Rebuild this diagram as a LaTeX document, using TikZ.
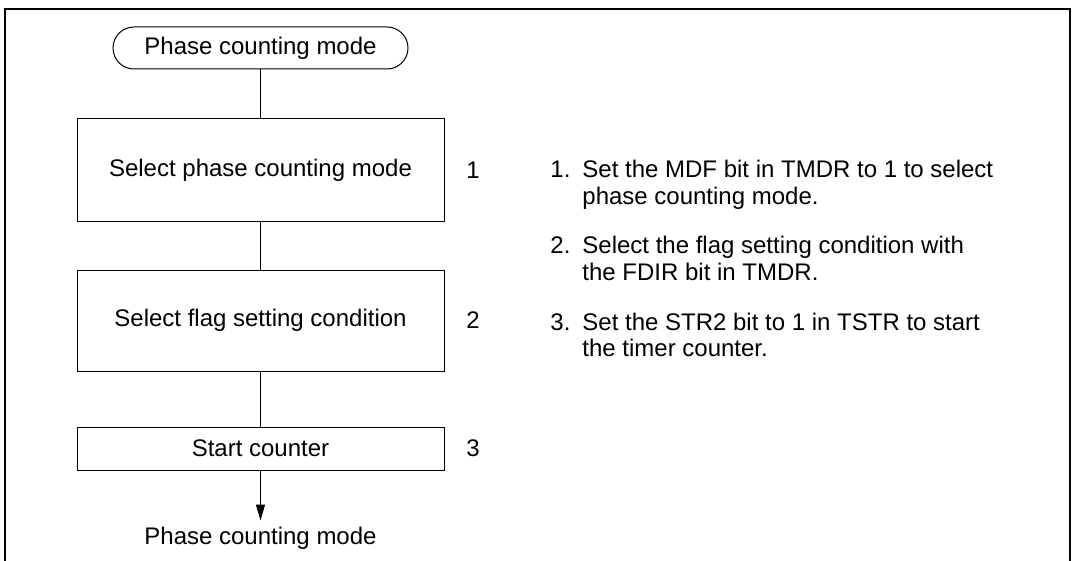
\documentclass[tikz,border=0pt]{standalone}
\usepackage{fontspec}
\setmainfont{Liberation Sans}
\usetikzlibrary{arrows.meta,positioning}

\begin{document}
\begin{tikzpicture}[
  x=0.5pt, y=-0.5pt,
  node distance=24pt and 10.75pt,
  font=\fontsize{12}{13.3}\selectfont,
  termbox/.style={draw, line width=0.5pt, rounded corners=10.5pt,
                  minimum width=147.5pt, minimum height=21pt, inner sep=0pt},
  stepbox/.style={draw, line width=0.5pt, minimum width=183.5pt, inner sep=0pt},
  stepno/.style={inner sep=0pt},
  note/.style={anchor=base west, inner sep=0pt},
  link/.style={line width=0.5pt},
  arrow/.style={link, -{Triangle[length=8pt,width=4.5pt]}}
]
  \useasboundingbox (0,0) rectangle (1074,561);
  % frame, open at the bottom
  \draw[line width=1.2pt] (5,561) -- (5,9) -- (1070,9) -- (1070,561);

  \node[termbox] (start) at (260.5,48) {Phase counting mode};
  \node[stepbox, minimum height=51pt, below=24.5pt of start] (mode) {Select phase counting mode};
  \node[stepbox, minimum height=50.5pt, below=24pt of mode] (flag) {Select flag setting condition};
  \node[stepbox, minimum height=21.5pt, below=27.5pt of flag] (count) {Start counter};
  \node[below=25pt of count] (finish) {Phase counting mode};

  \node[stepno, right=of mode] (no1) {1};
  \node[stepno, right=of flag] (no2) {2};
  \node[stepno, right=of count] (no3) {3};

  \draw[link] (start) -- (mode);
  \draw[link] (mode) -- (flag);
  \draw[link] (flag) -- (count);
  \draw[arrow] (count) -- (finish);

  % notes on the right
  \node[note] (note1) at (550,177.5) {\begin{tabular}[t]{@{}p{16pt}@{}l@{}}
    1.&Set the MDF bit in TMDR to 1 to select\\&phase counting mode.\end{tabular}};
  \node[note] (note2) at (550,253.5) {\begin{tabular}[t]{@{}p{16pt}@{}l@{}}
    2.&Select the flag setting condition with\\&the FDIR bit in TMDR.\end{tabular}};
  \node[note] (note3) at (550,330) {\begin{tabular}[t]{@{}p{16pt}@{}l@{}}
    3.&Set the STR2 bit to 1 in TSTR to start\\&the timer counter.\end{tabular}};
\end{tikzpicture}
\end{document}
